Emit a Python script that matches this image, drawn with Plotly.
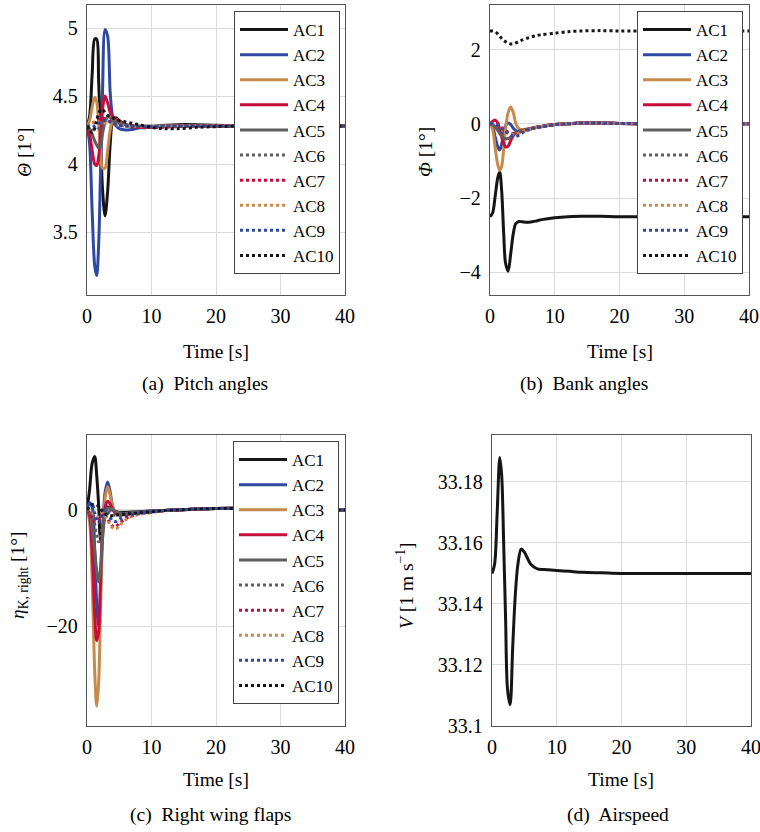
import plotly.graph_objects as go

# ---------------- data ----------------
time_s = [0, 0.4, 0.8, 1.2, 1.5, 1.8, 2.1, 2.4, 2.8, 3.2, 3.6, 4.0, 4.5, 5, 6, 7, 8,
          10, 12, 14, 17, 20, 25, 30, 35, 40]

series_names = ["AC1", "AC2", "AC3", "AC4", "AC5", "AC6", "AC7", "AC8", "AC9", "AC10"]

# (a) Pitch angles Theta [deg]
pitch_ac1 = [4.28, 4.35, 4.66, 4.92, 4.92, 4.62, 4.20, 3.82, 3.62, 3.80, 4.15, 4.32, 4.34, 4.32, 4.29, 4.28, 4.27,
             4.27, 4.285, 4.29, 4.29, 4.285, 4.28, 4.28, 4.28, 4.28]
pitch_ac2 = [4.28, 4.15, 3.65, 3.25, 3.18, 3.40, 3.95, 4.52, 4.99, 4.94, 4.52, 4.34, 4.28, 4.26, 4.25, 4.255, 4.265,
             4.275, 4.28, 4.28, 4.28, 4.28, 4.28, 4.28, 4.28, 4.28]
pitch_ac3 = [4.28, 4.32, 4.42, 4.49, 4.46, 4.30, 4.10, 3.97, 3.97, 4.10, 4.25, 4.32, 4.33, 4.31, 4.29, 4.28, 4.275,
             4.275, 4.28, 4.28, 4.28, 4.28, 4.28, 4.28, 4.28, 4.28]
pitch_ac4 = [4.28, 4.22, 4.10, 4.00, 3.99, 4.05, 4.22, 4.40, 4.50, 4.45, 4.38, 4.35, 4.33, 4.31, 4.29, 4.28, 4.27,
             4.275, 4.28, 4.28, 4.28, 4.28, 4.28, 4.28, 4.28, 4.28]
pitch_ac5 = [4.28, 4.26, 4.22, 4.17, 4.14, 4.12, 4.13, 4.22, 4.31, 4.35, 4.34, 4.32, 4.31, 4.30, 4.29, 4.28, 4.28,
             4.28, 4.28, 4.28, 4.28, 4.28, 4.28, 4.28, 4.28, 4.28]
pitch_ac6 = [4.28, 4.27, 4.26, 4.25, 4.25, 4.26, 4.28, 4.31, 4.33, 4.33, 4.32, 4.31, 4.30, 4.29, 4.28, 4.28, 4.275,
             4.275, 4.28, 4.28, 4.28, 4.28, 4.28, 4.28, 4.28, 4.28]
pitch_ac7 = [4.28, 4.29, 4.30, 4.31, 4.32, 4.33, 4.34, 4.34, 4.33, 4.32, 4.31, 4.30, 4.29, 4.285, 4.28, 4.275, 4.27,
             4.27, 4.27, 4.275, 4.28, 4.28, 4.28, 4.28, 4.28, 4.28]
pitch_ac8 = [4.28, 4.29, 4.30, 4.31, 4.31, 4.31, 4.30, 4.30, 4.30, 4.30, 4.30, 4.29, 4.29, 4.285, 4.28, 4.28, 4.275,
             4.275, 4.28, 4.28, 4.28, 4.28, 4.28, 4.28, 4.28, 4.28]
pitch_ac9 = [4.28, 4.275, 4.27, 4.28, 4.29, 4.30, 4.31, 4.32, 4.32, 4.32, 4.31, 4.30, 4.29, 4.285, 4.28, 4.28, 4.275,
             4.275, 4.28, 4.28, 4.28, 4.28, 4.28, 4.28, 4.28, 4.28]
pitch_ac10 = [4.28, 4.25, 4.23, 4.26, 4.32, 4.37, 4.40, 4.40, 4.38, 4.36, 4.35, 4.34, 4.33, 4.32, 4.31, 4.30, 4.29,
              4.27, 4.26, 4.26, 4.27, 4.275, 4.28, 4.28, 4.28, 4.28]

# (b) Bank angles Phi [deg]
bank_ac1 = [-2.50, -2.40, -1.95, -1.45, -1.30, -1.80, -2.90, -3.75, -3.97, -3.50, -2.95, -2.68, -2.63, -2.64, -2.65,
            -2.62, -2.58, -2.53, -2.50, -2.49, -2.49, -2.50, -2.50, -2.50, -2.50, -2.50]
bank_ac2 = [0, -0.08, -0.35, -0.62, -0.70, -0.55, -0.25, -0.05, 0.02, -0.02, -0.12, -0.18, -0.20, -0.18, -0.14,
            -0.10, -0.07, -0.02, 0.0, 0.02, 0.02, 0.01, 0, 0, 0, 0]
bank_ac3 = [0, -0.15, -0.65, -1.10, -1.25, -1.15, -0.70, -0.15, 0.30, 0.45, 0.30, 0.00, -0.14, -0.16, -0.13,
            -0.10, -0.07, -0.02, 0.0, 0.02, 0.02, 0.01, 0, 0, 0, 0]
bank_ac4 = [0, 0.06, 0.10, 0.02, -0.15, -0.35, -0.52, -0.62, -0.60, -0.45, -0.32, -0.25, -0.20, -0.18, -0.14,
            -0.10, -0.07, -0.02, 0.0, 0.02, 0.02, 0.01, 0, 0, 0, 0]
bank_ac5 = [0, -0.02, -0.08, -0.18, -0.26, -0.33, -0.38, -0.40, -0.40, -0.35, -0.28, -0.24, -0.20, -0.18, -0.14,
            -0.10, -0.07, -0.02, 0.0, 0.02, 0.02, 0.01, 0, 0, 0, 0]
bank_ac6 = [0, 0, -0.02, -0.05, -0.09, -0.13, -0.17, -0.21, -0.25, -0.27, -0.28, -0.27, -0.24, -0.21, -0.15,
            -0.10, -0.07, -0.02, 0.0, 0.02, 0.02, 0.01, 0, 0, 0, 0]
bank_ac7 = [0, 0, -0.02, -0.04, -0.07, -0.10, -0.14, -0.18, -0.22, -0.25, -0.26, -0.25, -0.23, -0.20, -0.15,
            -0.10, -0.07, -0.02, 0.0, 0.02, 0.02, 0.01, 0, 0, 0, 0]
bank_ac8 = [0, 0, -0.02, -0.05, -0.08, -0.12, -0.16, -0.20, -0.24, -0.27, -0.29, -0.28, -0.25, -0.21, -0.15,
            -0.10, -0.07, -0.02, 0.0, 0.02, 0.02, 0.01, 0, 0, 0, 0]
bank_ac9 = [0, 0, -0.02, -0.05, -0.08, -0.12, -0.16, -0.20, -0.25, -0.30, -0.33, -0.34, -0.30, -0.24, -0.16,
            -0.11, -0.08, -0.03, 0.0, 0.02, 0.02, 0.01, 0, 0, 0, 0]
bank_ac10 = [2.50, 2.50, 2.48, 2.42, 2.36, 2.30, 2.25, 2.21, 2.17, 2.15, 2.15, 2.18, 2.22, 2.26, 2.32, 2.37, 2.40,
             2.44, 2.48, 2.50, 2.51, 2.50, 2.50, 2.50, 2.50, 2.50]

# (c) Right wing flaps eta_K,right [deg]
flap_ac1 = [0, 3.5, 8.0, 9.2, 6.0, 1.0, -5.2, -3.5, -0.5, 0.5, 0.3, 0.0, -0.3, -0.4, -0.4, -0.35, -0.3,
            -0.2, -0.1, 0.0, 0.15, 0.25, 0.25, 0.1, 0.05, 0]
flap_ac2 = [0, 1.2, 0.5, -7.0, -16.0, -20.0, -14.0, -4.0, 3.0, 4.8, 3.0, 0.5, -0.5, -0.8, -0.7, -0.5, -0.4,
            -0.2, -0.1, 0.0, 0.15, 0.25, 0.25, 0.1, 0.05, 0]
flap_ac3 = [0, -2.0, -12.0, -28.0, -33.8, -30.0, -17.0, -5.0, 2.0, 4.0, 2.5, 0.5, -0.5, -0.8, -0.8, -0.6, -0.5,
            -0.3, -0.1, 0.0, 0.15, 0.25, 0.25, 0.1, 0.05, 0]
flap_ac4 = [0, -1.0, -7.0, -18.0, -22.5, -21.0, -12.0, -4.0, 0.5, 1.5, 1.0, 0.0, -0.6, -0.8, -0.8, -0.6, -0.5,
            -0.3, -0.1, 0.0, 0.15, 0.25, 0.25, 0.1, 0.05, 0]
flap_ac5 = [0, -0.5, -3.0, -7.0, -10.5, -12.4, -10.0, -5.0, -1.0, 0.3, 0.3, 0.0, -0.3, -0.5, -0.6, -0.5, -0.4,
            -0.3, -0.1, 0.0, 0.15, 0.25, 0.25, 0.1, 0.05, 0]
flap_ac6 = [0, 0.2, -0.5, -2.5, -4.5, -5.5, -4.5, -2.5, -0.8, 0.0, -0.3, -0.8, -1.0, -1.0, -0.8, -0.6, -0.5,
            -0.3, -0.1, 0.0, 0.15, 0.25, 0.25, 0.1, 0.05, 0]
flap_ac7 = [0, -0.5, -1.5, -2.0, -2.0, -1.5, -0.8, -0.5, -0.8, -1.5, -2.3, -2.8, -2.9, -2.3, -1.5, -1.0, -0.7,
            -0.4, -0.15, 0.0, 0.15, 0.25, 0.25, 0.1, 0.05, 0]
flap_ac8 = [0, 0.0, -0.5, -1.0, -1.2, -1.0, -0.6, -0.5, -1.0, -1.8, -2.6, -3.1, -3.3, -2.7, -1.7, -1.1, -0.8,
            -0.45, -0.15, 0.0, 0.15, 0.25, 0.25, 0.1, 0.05, 0]
flap_ac9 = [0, 1.2, 1.0, -0.5, -1.8, -2.2, -1.5, -0.5, 0.0, -0.5, -1.3, -1.9, -2.0, -1.6, -1.1, -0.8, -0.6,
            -0.35, -0.1, 0.0, 0.15, 0.25, 0.25, 0.1, 0.05, 0]
flap_ac10 = [0, 0.5, 0.9, 1.0, 0.9, 0.6, 0.2, -0.3, -0.7, -0.9, -1.0, -1.0, -0.9, -0.8, -0.7, -0.6, -0.5,
             -0.3, -0.1, 0.0, 0.15, 0.25, 0.25, 0.1, 0.05, 0]

# (d) Airspeed V [m/s]
airspeed = [33.150, 33.153, 33.170, 33.188, 33.182, 33.160, 33.135, 33.112, 33.107, 33.126, 33.143, 33.153,
            33.158, 33.157, 33.153, 33.1515, 33.1513, 33.151, 33.1507, 33.1504, 33.1502, 33.150, 33.150,
            33.150, 33.150, 33.150]

x_ticks = [0, 10, 20, 30, 40]
pitch_ticks = [3.5, 4, 4.5, 5]
pitch_ticktext = ["3.5", "4", "4.5", "5"]
bank_ticks = [-4, -2, 0, 2]
bank_ticktext = ["\u22124", "\u22122", "0", "2"]
flap_ticks = [-20, 0]
flap_ticktext = ["\u221220", "0"]
speed_ticks = [33.1, 33.12, 33.14, 33.16, 33.18]
speed_ticktext = ["33.1", "33.12", "33.14", "33.16", "33.18"]

# ---------------- styling ----------------
FONT = "Liberation Serif"
BLACK = "#151515"
BLUE = "#2f48a3"
ORANGE = "#c78a4b"
RED = "#c80c3c"
GRAY = "#5f5f5f"
colors = [BLACK, BLUE, ORANGE, RED, GRAY, GRAY, RED, ORANGE, BLUE, BLACK]
dashes = ["solid"] * 5 + ["dot"] * 5
LW = 3

W, H = 760, 832


def px_x(x):
    return x / W


def px_y(y):
    return 1 - y / H


fig = go.Figure()

panels = [
    ("x", "y", [pitch_ac1, pitch_ac2, pitch_ac3, pitch_ac4, pitch_ac5,
                pitch_ac6, pitch_ac7, pitch_ac8, pitch_ac9, pitch_ac10], "legend"),
    ("x2", "y2", [bank_ac1, bank_ac2, bank_ac3, bank_ac4, bank_ac5,
                  bank_ac6, bank_ac7, bank_ac8, bank_ac9, bank_ac10], "legend2"),
    ("x3", "y3", [flap_ac1, flap_ac2, flap_ac3, flap_ac4, flap_ac5,
                  flap_ac6, flap_ac7, flap_ac8, flap_ac9, flap_ac10], "legend3"),
]

for xa, ya, data, leg in panels:
    for name, vals, col, dsh in zip(series_names, data, colors, dashes):
        fig.add_trace(go.Scatter(
            x=time_s, y=vals, mode="lines", name=name, xaxis=xa, yaxis=ya,
            line=dict(color=col, width=LW, dash=dsh, shape="spline", smoothing=0.9),
            legend=leg, showlegend=True,
        ))

fig.add_trace(go.Scatter(
    x=time_s, y=airspeed, mode="lines", name="V", xaxis="x4", yaxis="y4",
    line=dict(color=BLACK, width=LW, shape="spline", smoothing=0.9), showlegend=False,
))

axis_common = dict(
    showgrid=True, gridcolor="#dcdcdc", gridwidth=1,
    showline=True, mirror=True, linecolor="#555555", linewidth=1.3,
    zeroline=False, ticks="", automargin=False, ticklabeloverflow="allow",
    tickfont=dict(family=FONT, size=20, color="black"),
)

top_y = [px_y(295), px_y(5)]
bot_y = [px_y(726), px_y(435)]
left_x = [px_x(87), px_x(345)]

fig.update_layout(
    width=W, height=H, margin=dict(l=0, r=0, t=0, b=0, autoexpand=False),
    paper_bgcolor="white", plot_bgcolor="white",
    font=dict(family=FONT, size=19, color="black"),
    xaxis=dict(domain=left_x, range=[0, 40], tickvals=x_ticks, anchor="y", ticklabelstandoff=3, **axis_common),
    yaxis=dict(domain=top_y, range=[3.037, 5.17], tickvals=pitch_ticks, ticktext=pitch_ticktext,
               anchor="x", ticklabelstandoff=4, **axis_common),
    xaxis2=dict(domain=[px_x(490), px_x(749)], range=[0, 40], tickvals=x_ticks, anchor="y2",
                ticklabelstandoff=3, **axis_common),
    yaxis2=dict(domain=top_y, range=[-4.61, 3.2], tickvals=bank_ticks, ticktext=bank_ticktext,
                anchor="x2", ticklabelstandoff=4, **axis_common),
    xaxis3=dict(domain=left_x, range=[0, 40], tickvals=x_ticks, anchor="y3", ticklabelstandoff=3, **axis_common),
    yaxis3=dict(domain=bot_y, range=[-37.2, 12.9], tickvals=flap_ticks, ticktext=flap_ticktext,
                anchor="x3", ticklabelstandoff=4, **axis_common),
    xaxis4=dict(domain=[px_x(492), px_x(751)], range=[0, 40], tickvals=x_ticks, anchor="y4",
                ticklabelstandoff=3, **axis_common),
    yaxis4=dict(domain=bot_y, range=[33.1, 33.1954], tickvals=speed_ticks, ticktext=speed_ticktext,
                anchor="x4", ticklabelstandoff=4, **axis_common),
)

legend_common = dict(
    xanchor="right", yanchor="top", bgcolor="white", bordercolor="#444444", borderwidth=1,
    font=dict(family=FONT, size=17, color="black"), itemwidth=48, tracegroupgap=0,
)
fig.update_layout(
    legend=dict(x=px_x(340), y=px_y(11), **legend_common),
    legend2=dict(x=px_x(743), y=px_y(11), **legend_common),
    legend3=dict(x=px_x(339), y=px_y(441), **legend_common),
)

annots = [
    (216, 351, "Time [s]", 0),
    (620, 351, "Time [s]", 0),
    (216, 779, "Time [s]", 0),
    (621, 779, "Time [s]", 0),
    (205, 384, "(a)  Pitch angles", 0),
    (584, 384, "(b)  Bank angles", 0),
    (211, 815, "(c)  Right wing flaps", 0),
    (618, 815, "(d)  Airspeed", 0),
    (24, 152, "<i>\u0398</i> [1\u00b0]", -90),
    (425, 152, "<i>\u03a6</i> [1\u00b0]", -90),
    (19, 575, "<i>\u03b7</i><sub>K, right</sub> [1\u00b0]", -90),
    (405, 586, "<i>V</i> [1 m s<sup>\u22121</sup>]", -90),
]
for x, y, txt, ang in annots:
    fig.add_annotation(x=px_x(x), y=px_y(y), xref="paper", yref="paper", text=txt, showarrow=False,
                       textangle=ang, xanchor="center", yanchor="middle",
                       font=dict(family=FONT, size=19.5, color="black"))

fig.write_html(
    "out.html",
    config={"displayModeBar": False},
    post_script="document.body.style.margin='0';document.body.style.overflow='hidden';",
)
